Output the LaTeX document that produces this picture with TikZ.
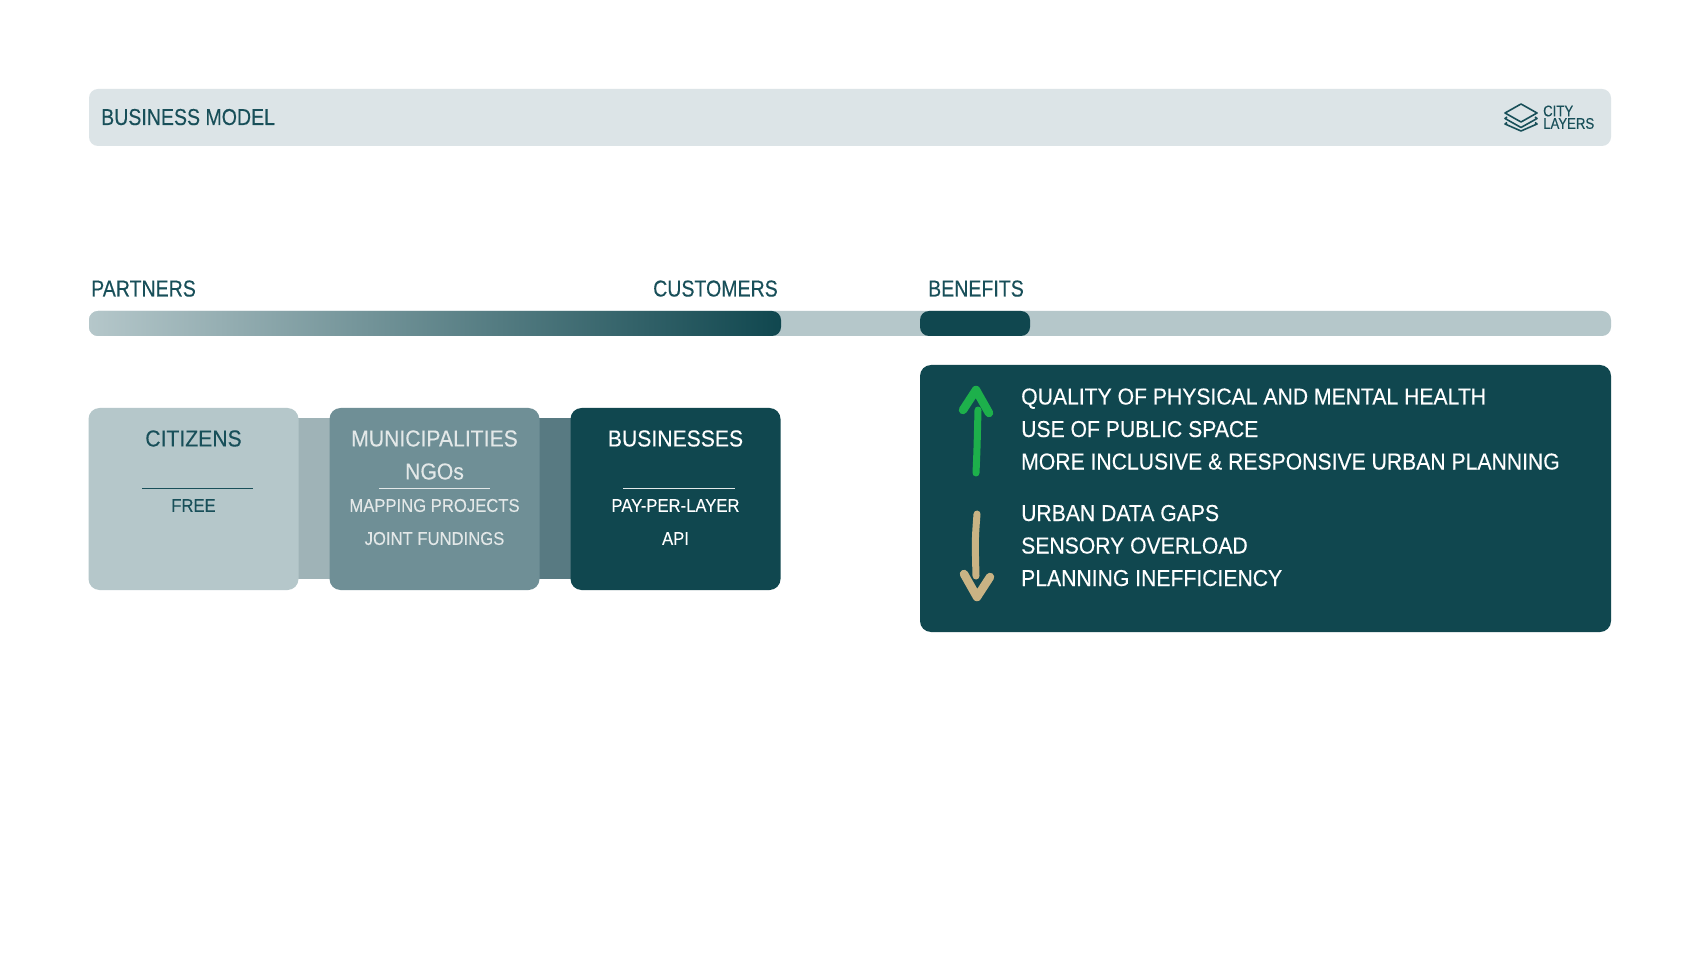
\documentclass[tikz,border=0pt]{standalone}
\usepackage{fontspec}
\setmainfont[FakeStretch=0.85, FakeBold=0.25]{Liberation Sans}
\newfontfamily\headfont[FakeStretch=0.92, FakeBold=0.25]{Liberation Sans}
\newfontfamily\subfont[FakeStretch=0.9, FakeBold=0.1]{Liberation Sans}
\newfontfamily\gainfont[FakeStretch=0.92, FakeBold=0.3]{Liberation Sans}
\definecolor{pale}{HTML}{DCE4E7}
\definecolor{light}{HTML}{B5C7CA}
\definecolor{mid}{HTML}{6F8F96}
\definecolor{deep}{HTML}{10474F}
\definecolor{bandA}{HTML}{9FB3B7}
\definecolor{bandB}{HTML}{587A82}
\definecolor{ink}{HTML}{184F59}
\definecolor{paleink}{HTML}{E3E8E8}
\definecolor{upgreen}{HTML}{1DB04B}
\definecolor{downtan}{HTML}{C9B384}
\tikzstyle{bar} = [rounded corners=9pt, inner sep=0pt, minimum height=25pt]
\tikzstyle{card} = [rounded corners=11pt, inner sep=0pt, minimum width=210pt, minimum height=182pt]
\tikzstyle{band} = [inner sep=0pt, minimum height=161pt]
\tikzstyle{title} = [font=\fontsize{23}{23}\selectfont, inner sep=0pt, anchor=base west]
\tikzstyle{head} = [font=\headfont\fontsize{23}{23}\selectfont, inner sep=0pt]
\tikzstyle{sub} = [font=\subfont\fontsize{18.5}{18.5}\selectfont, inner sep=0pt]
\tikzstyle{gain} = [font=\gainfont\fontsize{23}{23}\selectfont, inner sep=0pt, anchor=base west, white]
\tikzstyle{logotext} = [font=\fontsize{15.5}{15.5}\selectfont, inner sep=0pt, anchor=west, ink]
\tikzstyle{logoline} = [ink, line width=1.6pt, line join=round]
\tikzstyle{rule} = [line width=0.8pt]
\tikzstyle{stroke} = [line width=7pt, line cap=round, line join=round]
\tikzstyle{tip} = [line width=8.5pt, line cap=round, line join=round]

\begin{document}
\begin{tikzpicture}[x=1pt, y=-1pt]
\useasboundingbox (0,0) rectangle (1700,957);
\fill[white] (0,0) rectangle (1700,957);

\node[fill=pale, rounded corners=9pt, inner sep=0pt, minimum width=1522pt, minimum height=57pt] (header) at (850,117.5) {};
\node[title, ink] (model) at (101,125) {BUSINESS MODEL};

\draw[logoline] (1521,104) -- (1537,113) -- (1521,122) -- (1505,113) -- cycle;
\draw[logoline] (1507,117) -- (1505,118.5) -- (1521,127.5) -- (1537,118.5) -- (1535,117);
\draw[logoline] (1507,122.5) -- (1505,124) -- (1521,131) -- (1537,124) -- (1535,122.5);
\node[logotext] (city) at (1543,111) {CITY};
\node[logotext] (layers) at (1543,123.5) {LAYERS};

\node[title, ink] (partners) at (91,296.5) {PARTNERS};
\node[title, ink] (customers) at (653,296.5) {CUSTOMERS};
\node[title, ink] (benefits) at (928,296.5) {BENEFITS};

\node[bar, fill=light, minimum width=1522pt] (track) at (850,323.5) {};
\node[bar, left color=light, right color=deep, minimum width=692pt] (range) at (435,323.5) {};
\node[bar, fill=deep, minimum width=110pt] (pill) at (975,323.5) {};

\node[band, fill=bandA, minimum width=40pt] (linkA) at (314,498.5) {};
\node[band, fill=bandB, minimum width=40pt] (linkB) at (555,498.5) {};

\node[card, fill=light] (citizens) at (193.5,499) {};
\node[card, fill=mid] (municipal) at (434.5,499) {};
\node[card, fill=deep] (businesses) at (675.5,499) {};

\node[head, ink] (citizenshead) at (193.5,438.5) {CITIZENS};
\draw[rule, ink] (142,488) coordinate (ruleAa) -- (253,488) coordinate (ruleAb);
\node[sub, ink] (free) at (193.5,505.5) {FREE};

\node[head, paleink] (munihead) at (434.5,438.5) {MUNICIPALITIES};
\node[head, paleink] (ngos) at (434.5,471.5) {NGOs};
\draw[rule, paleink] (379,488) coordinate (ruleBa) -- (490,488) coordinate (ruleBb);
\node[sub, paleink] (mapping) at (434.5,505.5) {MAPPING PROJECTS};
\node[sub, paleink] (joint) at (434.5,538.5) {JOINT FUNDINGS};

\node[head, white] (busihead) at (675.5,438.5) {BUSINESSES};
\draw[rule, paleink] (623,488) coordinate (ruleCa) -- (735,488) coordinate (ruleCb);
\node[sub, white] (payper) at (675.5,505.5) {PAY-PER-LAYER};
\node[sub, white] (api) at (675.5,538.5) {API};

\node[fill=deep, rounded corners=11pt, inner sep=0pt, minimum width=691pt, minimum height=267pt] (panel) at (1265.5,498.5) {};

\node[gain] (quality) at (1021,404.5) {QUALITY OF PHYSICAL AND MENTAL HEALTH};
\node[gain] (public) at (1021,437) {USE OF PUBLIC SPACE};
\node[gain] (inclusive) at (1021,469.5) {MORE INCLUSIVE \& RESPONSIVE URBAN PLANNING};
\node[gain] (gaps) at (1021,521) {URBAN DATA GAPS};
\node[gain] (overload) at (1021,553.5) {SENSORY OVERLOAD};
\node[gain] (planning) at (1021,586) {PLANNING INEFFICIENCY};

\coordinate (uptail) at (976,473);
\coordinate (upneck) at (978,410);
\coordinate (uptip) at (976,390);
\coordinate (upleft) at (963,410);
\coordinate (upright) at (989,413);
\draw[stroke, upgreen] (uptail) .. controls (977,450) .. (upneck);
\draw[tip, upgreen] (upleft) -- (uptip) -- (upright);

\coordinate (downtail) at (977,514);
\coordinate (downneck) at (976,576);
\coordinate (downtip) at (977,597);
\coordinate (downleft) at (964,574);
\coordinate (downright) at (990,577);
\draw[stroke, downtan] (downtail) .. controls (975,540) .. (downneck);
\draw[tip, downtan] (downleft) -- (downtip) -- (downright);
\end{tikzpicture}
\end{document}
